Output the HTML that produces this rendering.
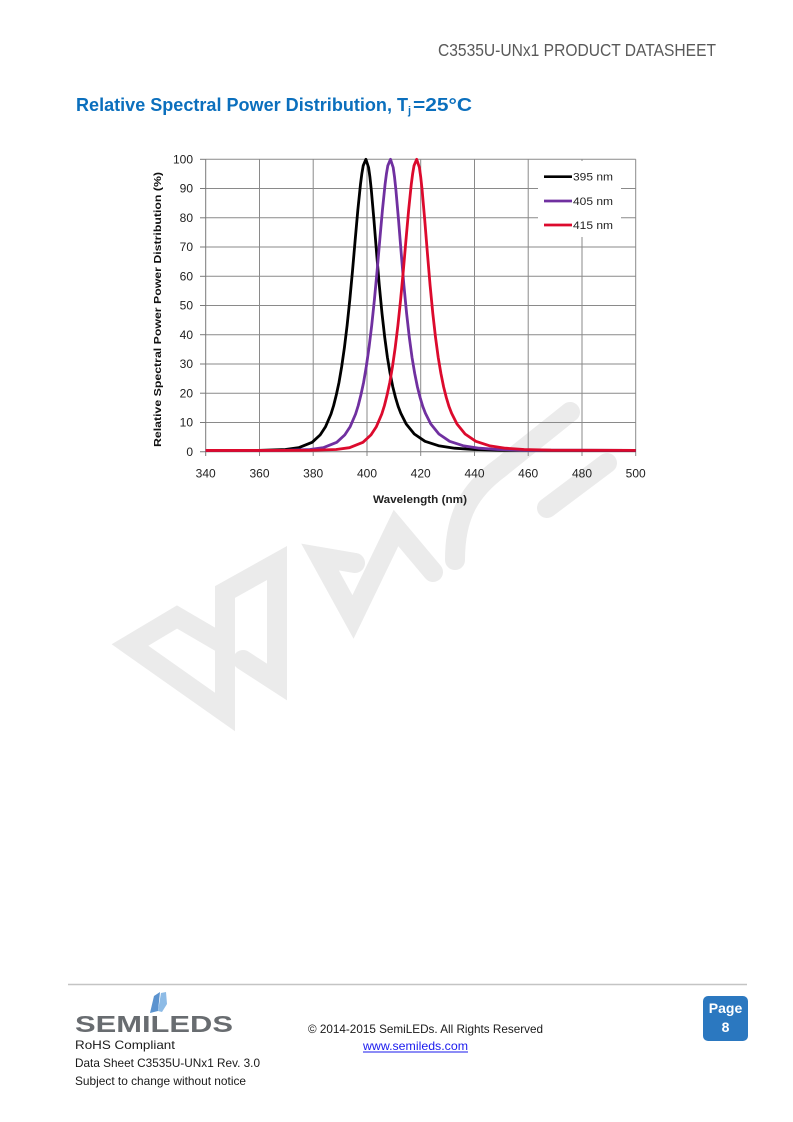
<!DOCTYPE html>
<html><head><meta charset="utf-8"><style>
html,body{margin:0;padding:0;background:#fff;}
svg{display:block;}
text{font-family:"Liberation Sans",Arial,sans-serif;}
</style></head><body>
<svg width="793" height="1122" viewBox="0 0 793 1122" xmlns="http://www.w3.org/2000/svg">
<rect width="793" height="1122" fill="#fff"/>
<defs>
<clipPath id="plot"><rect x="205.7" y="150" width="430" height="305"/></clipPath>
<polyline id="pk" fill="none" points="-300,450.5 -107.5,450.4 -80.6,449.5 -67.2,447.7 -53.75,442.3 -45.7,434.9 -40.3,426.6 -34.9,414.0 -32.25,405.5 -29.6,394.9 -26.9,382.4 -24.2,366.5 -21.5,347.7 -18.8,325.5 -16.1,299.8 -13.4,270.9 -10.75,240.3 -8.06,210.0 -5.375,183.9 -4.03,173.6 -2.69,165.7 0,159.3 2.69,167.5 4.03,177.1 5.375,189.6 8.06,220.2 10.75,253.7 13.4,285.4 16.1,313.4 18.8,337.2 21.5,357.3 24.2,373.4 26.9,386.8 29.6,397.5 32.25,406.4 34.9,413.3 40.3,424.0 48.4,434.0 59.1,441.3 72.6,445.7 88.7,448.2 107.5,449.5 134.4,450.2 300,450.5"/>
</defs>

<!-- watermark -->
<g fill="none" stroke="#ebebeb" stroke-width="20" stroke-linecap="round" stroke-linejoin="miter" stroke-miterlimit="3">
<path d="M225,645 L177,617 L130,645 L225,712 L225,592 L277,563 L277,682 L243,660"/>
<path d="M355,563 L320,557 L353,617 L396,528 L433,572"/>
<path d="M455,560 C455,515 470,490 500,468 L570,412"/>
<path d="M547,508 L607,463"/>
</g>

<!-- header -->
<text x="438" y="56" font-size="17.5" fill="#595959" textLength="278" lengthAdjust="spacingAndGlyphs">C3535U-UNx1 PRODUCT DATASHEET</text>
<text x="76" y="111" font-size="18" font-weight="bold" fill="#0b6fbd" textLength="332" lengthAdjust="spacingAndGlyphs">Relative Spectral Power Distribution, T</text>
<text x="408" y="114" font-size="11" font-weight="bold" fill="#0b6fbd">j</text>
<text x="413" y="111" font-size="18" font-weight="bold" fill="#0b6fbd" textLength="59" lengthAdjust="spacingAndGlyphs">=25°C</text>

<!-- grid -->
<g stroke="#8a8a8a" stroke-width="1">
<line x1="205.7" y1="159.3" x2="635.7" y2="159.3"/>
<line x1="205.7" y1="188.5" x2="635.7" y2="188.5"/>
<line x1="205.7" y1="217.8" x2="635.7" y2="217.8"/>
<line x1="205.7" y1="247.0" x2="635.7" y2="247.0"/>
<line x1="205.7" y1="276.3" x2="635.7" y2="276.3"/>
<line x1="205.7" y1="305.5" x2="635.7" y2="305.5"/>
<line x1="205.7" y1="334.7" x2="635.7" y2="334.7"/>
<line x1="205.7" y1="364.0" x2="635.7" y2="364.0"/>
<line x1="205.7" y1="393.2" x2="635.7" y2="393.2"/>
<line x1="205.7" y1="422.5" x2="635.7" y2="422.5"/>
<line x1="259.5" y1="159.3" x2="259.5" y2="456"/>
<line x1="313.2" y1="159.3" x2="313.2" y2="456"/>
<line x1="367.0" y1="159.3" x2="367.0" y2="456"/>
<line x1="420.7" y1="159.3" x2="420.7" y2="456"/>
<line x1="474.5" y1="159.3" x2="474.5" y2="456"/>
<line x1="528.2" y1="159.3" x2="528.2" y2="456"/>
<line x1="582.0" y1="159.3" x2="582.0" y2="456"/>
<line x1="635.7" y1="159.3" x2="635.7" y2="456"/>
</g>
<g stroke="#7a7a7a" stroke-width="1">
<line x1="205.7" y1="159.3" x2="205.7" y2="456"/>
<line x1="200" y1="451.7" x2="635.7" y2="451.7"/>
<line x1="200" y1="159.3" x2="205.7" y2="159.3"/>
<line x1="200" y1="188.5" x2="205.7" y2="188.5"/>
<line x1="200" y1="217.8" x2="205.7" y2="217.8"/>
<line x1="200" y1="247.0" x2="205.7" y2="247.0"/>
<line x1="200" y1="276.3" x2="205.7" y2="276.3"/>
<line x1="200" y1="305.5" x2="205.7" y2="305.5"/>
<line x1="200" y1="334.7" x2="205.7" y2="334.7"/>
<line x1="200" y1="364.0" x2="205.7" y2="364.0"/>
<line x1="200" y1="393.2" x2="205.7" y2="393.2"/>
<line x1="200" y1="422.5" x2="205.7" y2="422.5"/>
</g>

<!-- curves -->
<g clip-path="url(#plot)" stroke-width="2.8" stroke-linejoin="round">
<use href="#pk" transform="translate(365.9,0)" stroke="#000000"/>
<use href="#pk" transform="translate(390.5,0)" stroke="#7030a0"/>
<use href="#pk" transform="translate(416.7,0)" stroke="#dc0a2d"/>
</g>

<!-- legend -->
<rect x="538" y="161" width="83" height="76" fill="#fff"/>
<g stroke-width="2.7">
<line x1="544" y1="176.7" x2="572" y2="176.7" stroke="#000"/>
<line x1="544" y1="201" x2="572" y2="201" stroke="#7030a0"/>
<line x1="544" y1="225" x2="572" y2="225" stroke="#dc0a2d"/>
</g>
<g font-size="11" fill="#222">
<text x="573" y="180.7" textLength="40" lengthAdjust="spacingAndGlyphs">395 nm</text>
<text x="573" y="205" textLength="40" lengthAdjust="spacingAndGlyphs">405 nm</text>
<text x="573" y="229" textLength="40" lengthAdjust="spacingAndGlyphs">415 nm</text>
</g>

<!-- y tick labels -->
<g font-size="12" fill="#222" text-anchor="end">
<text x="193" y="163.5">100</text>
<text x="193" y="192.7">90</text>
<text x="193" y="222">80</text>
<text x="193" y="251.2">70</text>
<text x="193" y="280.5">60</text>
<text x="193" y="309.7">50</text>
<text x="193" y="338.9">40</text>
<text x="193" y="368.2">30</text>
<text x="193" y="397.4">20</text>
<text x="193" y="426.7">10</text>
<text x="193" y="455.9">0</text>
</g>
<!-- x tick labels -->
<g font-size="12" fill="#222" text-anchor="middle">
<text x="205.7" y="477.7">340</text>
<text x="259.5" y="477.7">360</text>
<text x="313.2" y="477.7">380</text>
<text x="367.0" y="477.7">400</text>
<text x="420.7" y="477.7">420</text>
<text x="474.5" y="477.7">440</text>
<text x="528.2" y="477.7">460</text>
<text x="582.0" y="477.7">480</text>
<text x="635.7" y="477.7">500</text>
</g>
<text x="373" y="503" font-size="11" font-weight="bold" fill="#222" textLength="94" lengthAdjust="spacingAndGlyphs">Wavelength (nm)</text>
<text transform="translate(161,309.5) rotate(-90)" x="0" y="0" text-anchor="middle" font-size="10.5" font-weight="bold" fill="#111" textLength="275" lengthAdjust="spacingAndGlyphs">Relative  Spectral Power Power Distribution (%)</text>

<!-- footer -->
<line x1="68" y1="984.5" x2="747" y2="984.5" stroke="#c4c4c4" stroke-width="1.5"/>
<polygon points="150,1013 154,996 160,992 158,1011" fill="#5b93cf"/>
<polygon points="158,1011 161,993 166,992 167,1004 162,1012" fill="#8dbbe6"/>
<text x="75" y="1032" font-size="23.5" font-weight="bold" fill="#686c70" textLength="158" lengthAdjust="spacingAndGlyphs">SEMILEDS</text>
<g font-size="12" fill="#1a1a1a">
<text x="75" y="1049" textLength="100" lengthAdjust="spacingAndGlyphs">RoHS Compliant</text>
<text x="75" y="1067" textLength="185" lengthAdjust="spacingAndGlyphs">Data Sheet C3535U-UNx1 Rev. 3.0</text>
<text x="75" y="1085" textLength="171" lengthAdjust="spacingAndGlyphs">Subject to change without notice</text>
<text x="308" y="1033" textLength="235" lengthAdjust="spacingAndGlyphs">© 2014-2015 SemiLEDs. All Rights Reserved</text>
</g>
<text x="363" y="1050" font-size="12" fill="#1a1aee" textLength="105" lengthAdjust="spacingAndGlyphs">www.semileds.com</text>
<line x1="363" y1="1052" x2="468" y2="1052" stroke="#1a1aee" stroke-width="1"/>
<rect x="703" y="996" width="45" height="45" rx="5" fill="#2b78c0"/>
<text x="725.5" y="1013" font-family="'Liberation Serif',serif" font-size="14" font-weight="bold" fill="#fff" text-anchor="middle">Page</text>
<text x="725.5" y="1032" font-family="'Liberation Serif',serif" font-size="14" font-weight="bold" fill="#fff" text-anchor="middle">8</text>
</svg>
</body></html>
